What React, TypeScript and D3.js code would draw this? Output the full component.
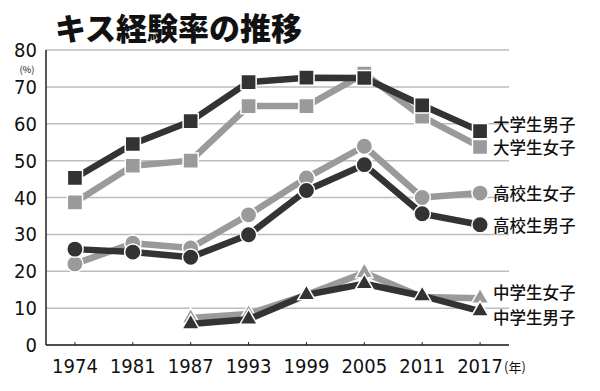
import React from "react";
import * as d3 from "d3";

const width = 600;
const height = 391;

const years = ["1974", "1981", "1987", "1993", "1999", "2005", "2011", "2017"];
const yTicks = [0, 10, 20, 30, 40, 50, 60, 70, 80];

const univMale = [45.3, 54.5, 60.7, 71.3, 72.5, 72.4, 65.0, 58.0];
const univFemale = [38.7, 48.6, 50.0, 64.8, 64.8, 73.6, 61.9, 53.7];
const hsFemale = [22.0, 27.6, 26.3, 35.3, 45.3, 53.9, 40.0, 41.2];
const hsMale = [26.0, 25.2, 23.8, 29.9, 41.9, 48.9, 35.6, 32.6];
const jhFemale = [null, null, 7.3, 8.4, 13.6, 19.6, 13.0, 12.7];
const jhMale = [null, null, 5.7, 7.0, 13.6, 16.6, 13.3, 9.2];

const dark = "#333333";
const light = "#9a9a9a";

// light series first so the dark ones sit on top
const series = [
  { name: "大学生女子", values: univFemale, color: light, symbol: d3.symbolSquare, size: 230, dy: 0 },
  { name: "高校生女子", values: hsFemale, color: light, symbol: d3.symbolCircle, size: 210, dy: 0 },
  { name: "中学生女子", values: jhFemale, color: light, symbol: d3.symbolTriangle, size: 130, dy: -6 },
  { name: "大学生男子", values: univMale, color: dark, symbol: d3.symbolSquare, size: 230, dy: -7 },
  { name: "高校生男子", values: hsMale, color: dark, symbol: d3.symbolCircle, size: 210, dy: 0 },
  { name: "中学生男子", values: jhMale, color: dark, symbol: d3.symbolTriangle, size: 130, dy: 6 },
];

const margin = { top: 50, left: 46, right: 509, bottom: 345 };

const App = () => {
  const x = d3.scalePoint().domain(years).range([margin.left, margin.right]).padding(0.5);
  const y = d3.scaleLinear().domain([0, 80]).range([margin.bottom, margin.top]);

  const line = d3
    .line<number | null>()
    .defined((d) => d != null)
    .x((d, i) => x(years[i]) as number)
    .y((d) => y(d as number));

  const numFont = "'Liberation Sans Narrow', 'DejaVu Sans Condensed', 'Liberation Sans', sans-serif";
  const jpFont = "'Noto Sans CJK JP', sans-serif";

  return (
    <div style={{ position: "fixed", left: 0, top: 0 }}>
      <svg width={width} height={height} style={{ display: "block", background: "#fff" }}>
        <text x={55} y={26} fontFamily={jpFont} fontSize={31} fontWeight={900} dominantBaseline="central" fill="#111">
          キス経験率の推移
        </text>

        {yTicks.map((t) => (
          <line key={"g" + t} x1={margin.left} x2={margin.right} y1={y(t)} y2={y(t)} stroke="#bdbdbd" strokeWidth={1.5} />
        ))}
        {yTicks.map((t) => (
          <text key={"yl" + t} x={37} y={y(t)} textAnchor="end" dominantBaseline="central" fontFamily={numFont} fontSize={20} fill="#111">
            {t}
          </text>
        ))}
        <text x={27} y={68.5} textAnchor="middle" dominantBaseline="central" fontFamily={jpFont} fontSize={9.5} fill="#111">
          (%)
        </text>

        <line x1={margin.left} x2={margin.left} y1={margin.top} y2={margin.bottom} stroke="#222" strokeWidth={1.5} />
        <line x1={margin.left} x2={margin.right} y1={margin.bottom} y2={margin.bottom} stroke="#222" strokeWidth={1.5} />
        {years.map((yr) => (
          <g key={yr}>
            <line x1={x(yr)} x2={x(yr)} y1={margin.bottom} y2={margin.bottom - 3} stroke="#222" strokeWidth={1} />
            <text x={x(yr)} y={366} textAnchor="middle" dominantBaseline="central" fontFamily={numFont} fontSize={20} fill="#111">
              {yr}
            </text>
          </g>
        ))}
        <text x={504} y={366} dominantBaseline="central" fontFamily={jpFont} fontSize={13} fill="#111">
          (年)
        </text>

        {series.map((s) => {
          const sym = d3.symbol().type(s.symbol).size(s.size)();
          const last = s.values[s.values.length - 1] as number;
          return (
            <g key={s.name}>
              <path d={line(s.values) || ""} fill="none" stroke={s.color} strokeWidth={6.5} strokeLinejoin="round" />
              {s.values.map((v, i) =>
                v == null ? null : (
                  <path
                    key={i}
                    d={sym || ""}
                    transform={`translate(${x(years[i])},${y(v)})`}
                    fill={s.color}
                    stroke="#fff"
                    strokeWidth={1.5}
                  />
                )
              )}
              <text x={493} y={y(last) + s.dy} dominantBaseline="central" fontFamily={jpFont} fontSize={16.5} fontWeight={500} fill="#111">
                {s.name}
              </text>
            </g>
          );
        })}
      </svg>
    </div>
  );
};

export default App;
